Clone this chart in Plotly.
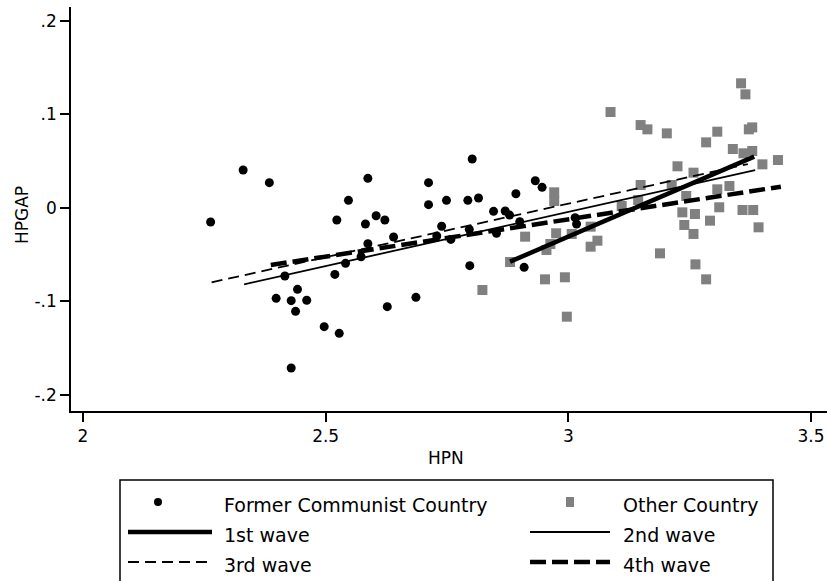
import plotly.graph_objects as go

# ---------------- data ----------------
fcc_hpn = [2.263, 2.330, 2.384, 2.398, 2.416, 2.429, 2.429, 2.438, 2.442, 2.461,
           2.497, 2.519, 2.523, 2.528, 2.541, 2.547, 2.573, 2.582, 2.587, 2.587,
           2.604, 2.622, 2.627, 2.640, 2.686, 2.712, 2.712, 2.729, 2.739, 2.749,
           2.758, 2.793, 2.796, 2.797, 2.802, 2.815, 2.846, 2.852, 2.870, 2.879,
           2.892, 2.900, 2.909, 2.932, 2.946, 3.014, 3.017]
fcc_hpgap = [-0.0151, 0.0404, 0.0269, -0.0967, -0.0728, -0.0992, -0.1711, -0.1106, -0.0871, -0.0988,
             -0.1270, -0.0711, -0.0130, -0.1341, -0.0593, 0.0080, -0.0522, -0.0173, 0.0315, -0.0383,
             -0.0084, -0.0130, -0.1056, -0.0312, -0.0956, 0.0269, 0.0034, -0.0301, -0.0197, 0.0080,
             -0.0337, 0.0080, -0.0230, -0.0618, 0.0522, 0.0105, -0.0037, -0.0272, -0.0034, -0.0077,
             0.0151, -0.0148, -0.0636, 0.0290, 0.0219, -0.0105, -0.0173]

oth_hpn = [2.823, 2.880, 2.911, 2.952, 2.955, 2.963, 2.971, 2.971, 2.975, 2.993,
           2.997, 3.007, 3.046, 3.046, 3.060, 3.087, 3.110, 3.144, 3.149, 3.149,
           3.163, 3.189, 3.203, 3.213, 3.225, 3.235, 3.239, 3.243, 3.258, 3.258,
           3.261, 3.262, 3.284, 3.284, 3.292, 3.307, 3.307, 3.311, 3.332, 3.339,
           3.356, 3.359, 3.361, 3.365, 3.372, 3.379, 3.379, 3.381, 3.392, 3.400,
           3.432]
oth_hpgap = [-0.0878, -0.0579, -0.0308, -0.0764, -0.0450, -0.0386, 0.0166, 0.0073, -0.0272, -0.0742,
             -0.1163, -0.0279, -0.0201, -0.0415, -0.0351, 0.1024, 0.0020, 0.0084, 0.0885, 0.0244,
             0.0839, -0.0486, 0.0796, 0.0244, 0.0444, -0.0048, -0.0183, 0.0127, 0.0376, -0.0279,
             -0.0066, -0.0604, 0.0700, -0.0764, -0.0137, 0.0814, 0.0198, 0.0006, 0.0233, 0.0629,
             0.1331, -0.0023, 0.0583, 0.1213, 0.0839, 0.0860, 0.0608, -0.0023, -0.0208, 0.0465,
             0.0511]

wave_names = ["1st wave", "2nd wave", "3rd wave", "4th wave"]
wave_hpn = [[2.880, 3.383], [2.332, 3.385], [2.265, 3.370], [2.387, 3.438]]
wave_hpgap = [[-0.0575, 0.0547], [-0.0817, 0.0404], [-0.0796, 0.0468], [-0.0611, 0.0226]]

x_ticks = [2, 2.5, 3, 3.5]
x_ticktext = ["2", "2.5", "3", "3.5"]
y_ticks = [-0.2, -0.1, 0, 0.1, 0.2]
y_ticktext = ["-.2", "-.1", "0", ".1", ".2"]

# ---------------- layout geometry ----------------
W, H = 828, 581
ML, MR, MT, MB = 71, 1, 7, 170
PW = W - ML - MR
PH = H - MT - MB
X0_PX, XPU = 83.0, 485.3      # pixel of x=2, px per unit
Y0_PX, YPU = 207.85, 935.75   # pixel of y=0, px per unit
xr = [2 + (ML - X0_PX) / XPU, 2 + (ML + PW - X0_PX) / XPU]
yr = [(Y0_PX - (MT + PH)) / YPU, (Y0_PX - MT) / YPU]

def px(xp):
    return (xp - ML) / PW

def py(yp):
    return (MT + PH - yp) / PH

FONT = "DejaVu Sans"

line_styles = [
    dict(color="black", width=4.5, dash="solid"),
    dict(color="black", width=1.8, dash="solid"),
    dict(color="black", width=1.8, dash="11px,6px"),
    dict(color="black", width=4.5, dash="16px,6px"),
]

fig = go.Figure()
fig.add_trace(go.Scatter(x=fcc_hpn, y=fcc_hpgap, mode="markers",
                         name="Former Communist Country",
                         marker=dict(symbol="circle", size=9, color="black"),
                         showlegend=False))
fig.add_trace(go.Scatter(x=oth_hpn, y=oth_hpgap, mode="markers",
                         name="Other Country",
                         marker=dict(symbol="square", size=10, color="#808080",
                                     line=dict(width=0)),
                         showlegend=False))
for nm, xs, ys, ls in zip(wave_names, wave_hpn, wave_hpgap, line_styles):
    fig.add_trace(go.Scatter(x=xs, y=ys, mode="lines", name=nm, line=ls,
                             showlegend=False))

# ---------------- manual legend ----------------
shapes = []
annotations = []
box_l, box_r, box_t, box_b = 120, 773, 480, 620
shapes.append(dict(type="rect", xref="paper", yref="paper",
                   x0=px(box_l), x1=px(box_r), y0=py(box_b), y1=py(box_t),
                   line=dict(color="black", width=1.5), fillcolor="rgba(0,0,0,0)"))

rows = [502, 532, 562]
col_sym = [(128, 212), (530, 610)]
col_txt = [222, 621]
legend_items = [
    ("Former Communist Country", "dot", 0, 0),
    ("Other Country", "square", 0, 1),
    ("1st wave", 0, 1, 0),
    ("2nd wave", 1, 1, 1),
    ("3rd wave", 2, 2, 0),
    ("4th wave", 3, 2, 1),
]
for label, sym, r, c in legend_items:
    yc = rows[r]
    xa, xb = col_sym[c]
    xm = (xa + xb) / 2 - (12 if c == 0 else 0)
    if sym == "dot":
        shapes.append(dict(type="circle", xref="paper", yref="paper",
                           x0=px(xm - 4), x1=px(xm + 4), y0=py(yc + 4), y1=py(yc - 4),
                           fillcolor="black", line=dict(width=0)))
    elif sym == "square":
        shapes.append(dict(type="rect", xref="paper", yref="paper",
                           x0=px(xm - 4), x1=px(xm + 4), y0=py(yc + 5), y1=py(yc - 5),
                           fillcolor="#808080", line=dict(width=0)))
    else:
        ls = line_styles[sym]
        shapes.append(dict(type="line", xref="paper", yref="paper",
                           x0=px(xa), x1=px(xb), y0=py(yc), y1=py(yc),
                           line=dict(color=ls["color"], width=ls["width"], dash=ls["dash"])))
    annotations.append(dict(text=label, xref="paper", yref="paper",
                            x=px(col_txt[c]), y=py(yc + 3), xanchor="left", yanchor="middle",
                            showarrow=False, font=dict(family=FONT, size=19, color="black")))

# axis titles
annotations.append(dict(text="HPN", xref="paper", yref="paper", x=px(446), y=py(458),
                        xanchor="center", yanchor="middle", showarrow=False,
                        font=dict(family=FONT, size=17, color="black")))
annotations.append(dict(text="HPGAP", xref="paper", yref="paper", x=px(22), y=py(215),
                        xanchor="center", yanchor="middle", showarrow=False, textangle=-90,
                        font=dict(family=FONT, size=17, color="black")))

fig.update_layout(
    width=W, height=H,
    margin=dict(l=ML, r=MR, t=MT, b=MB, pad=0),
    paper_bgcolor="white", plot_bgcolor="white",
    showlegend=False,
    shapes=shapes, annotations=annotations,
    font=dict(family=FONT, size=17, color="black"),
)
fig.update_xaxes(range=xr, tickvals=x_ticks, ticktext=x_ticktext,
                 showgrid=False, zeroline=False, showline=True, linecolor="black",
                 linewidth=1.5, ticks="outside", ticklen=9, tickwidth=1.5,
                 tickcolor="black", mirror=False, tickfont=dict(family=FONT, size=17))
fig.update_yaxes(range=yr, tickvals=y_ticks, ticktext=y_ticktext,
                 showgrid=False, zeroline=False, showline=True, linecolor="black",
                 linewidth=1.5, ticks="outside", ticklen=9, tickwidth=1.5,
                 tickcolor="black", mirror=False, tickfont=dict(family=FONT, size=17))

fig.write_html("out.html")
